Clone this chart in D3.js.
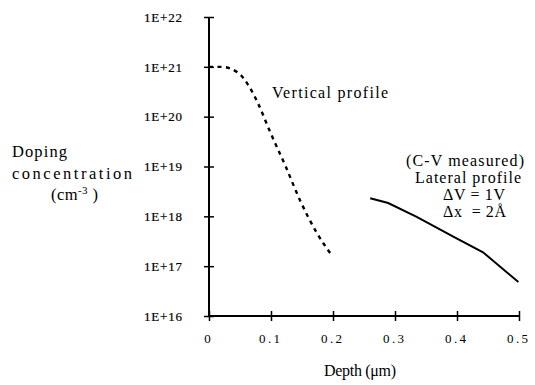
<!DOCTYPE html>
<html>
<head>
<meta charset="utf-8">
<script src="https://cdn.jsdelivr.net/npm/d3@7"></script>
<style>
  body { margin: 0; background: #fff; }
  text { font-family: "Liberation Serif", "DejaVu Serif", serif; }
</style>
</head>
<body>
<svg width="535" height="385"></svg>
<script>
  // depth in um, concentration in cm^-3
  const verticalDepth = [0, 0.02, 0.047, 0.066, 0.0795, 0.0984, 0.1237, 0.1468, 0.1737, 0.198];
  const verticalConc = [1e21, 1e21, 7.6e20, 3.8e20, 1.8e20, 5e19, 1e19, 2.1e18, 4.7e17, 1.65e17];

  const lateralDepth = [0.26, 0.289, 0.335, 0.394, 0.442, 0.499];
  const lateralConc = [2.3e18, 1.85e18, 9.8e17, 3.9e17, 1.9e17, 4.8e16];

  const xTicks = [0, 0.1, 0.2, 0.3, 0.4, 0.5];
  const yTicks = [1e16, 1e17, 1e18, 1e19, 1e20, 1e21, 1e22];
  const yTickLabels = ["1E+16", "1E+17", "1E+18", "1E+19", "1E+20", "1E+21", "1E+22"];

  const svg = d3.select("svg");

  // the scanned typeface is wider than Liberation Serif, stretch spacing a bit
  function fit(sel, w) {
    sel.attr("textLength", w).attr("lengthAdjust", "spacing");
  }

  const x = d3.scaleLinear().domain([0, 0.5]).range([209, 519]);
  const y = d3.scaleLog().domain([1e16, 1e22]).range([316, 17]);

  // y axis
  const yAxis = svg.append("g")
    .attr("transform", "translate(209,0)")
    .call(d3.axisLeft(y).tickValues(yTicks).tickSize(4)
      .tickFormat((d, i) => yTickLabels[i]));
  yAxis.attr("font-family", null);
  yAxis.select(".domain").remove();
  yAxis.append("line")
    .attr("y1", y(1e22)).attr("y2", y(1e16))
    .attr("stroke", "#000").attr("stroke-width", 2);
  yAxis.selectAll(".tick line")
    .attr("x1", 5).attr("x2", -5).attr("stroke-width", 1.5);
  yAxis.selectAll(".tick text")
    .attr("x", -27).attr("font-size", 13).attr("fill", "#000")
    .attr("stroke", "#000").attr("stroke-width", 0.2)
    .call(fit, 38);

  // x axis
  const xAxis = svg.append("g")
    .attr("transform", "translate(0,316)")
    .call(d3.axisBottom(x).tickValues(xTicks).tickSize(4)
      .tickFormat(d3.format("")));
  xAxis.attr("font-family", null);
  xAxis.select(".domain").remove();
  xAxis.append("line")
    .attr("x1", x(0)).attr("x2", x(0.5))
    .attr("stroke", "#000").attr("stroke-width", 2);
  xAxis.selectAll(".tick line")
    .attr("y1", -5).attr("y2", 5).attr("stroke-width", 1.5);
  xAxis.selectAll(".tick text")
    .attr("x", -2)
    .attr("y", 18).attr("font-size", 13).attr("fill", "#000")
    .filter(d => d > 0).call(fit, 21);

  const line = d3.line()
    .x(d => x(d[0]))
    .y(d => y(d[1]))
    .curve(d3.curveMonotoneX);

  svg.append("path")
    .datum(d3.zip(verticalDepth, verticalConc))
    .attr("d", line)
    .attr("fill", "none")
    .attr("stroke", "#000")
    .attr("stroke-width", 2.4)
    .attr("stroke-dasharray", "4,4.5");

  svg.append("path")
    .datum(d3.zip(lateralDepth, lateralConc))
    .attr("d", d3.line().x(d => x(d[0])).y(d => y(d[1])))
    .attr("fill", "none")
    .attr("stroke", "#000")
    .attr("stroke-width", 2);

  // labels
  svg.append("text")
    .attr("x", 272).attr("y", 98)
    .attr("font-size", 16)
    .text("Vertical profile")
    .call(fit, 116);

  const lat = svg.append("g").attr("font-size", 16);
  lat.append("text").attr("x", 406).attr("y", 166).text("(C-V measured)").call(fit, 118);
  lat.append("text").attr("x", 415).attr("y", 183).text("Lateral profile").call(fit, 106);
  lat.append("text").attr("x", 443).attr("y", 200).text("ΔV = 1V").call(fit, 62);
  lat.append("text").attr("x", 443).attr("y", 217).attr("xml:space", "preserve").text("Δx  = 2Å").call(fit, 63);

  const yl = svg.append("g").attr("font-size", 16.5);
  yl.append("text").attr("x", 12).attr("y", 157).text("Doping").call(fit, 55);
  yl.append("text").attr("x", 12).attr("y", 179).text("concentration").call(fit, 120);
  const cm = yl.append("text").attr("x", 51).attr("y", 200);
  cm.append("tspan").text("(cm");
  cm.append("tspan").attr("dy", -6).attr("font-size", 11).text("-3");
  cm.append("tspan").attr("dy", 6).text(" )");
  cm.call(fit, 47);

  svg.append("text")
    .attr("x", 324).attr("y", 376)
    .attr("font-size", 16)
    .text("Depth (μm)")
    .call(fit, 72);
</script>
</body>
</html>
